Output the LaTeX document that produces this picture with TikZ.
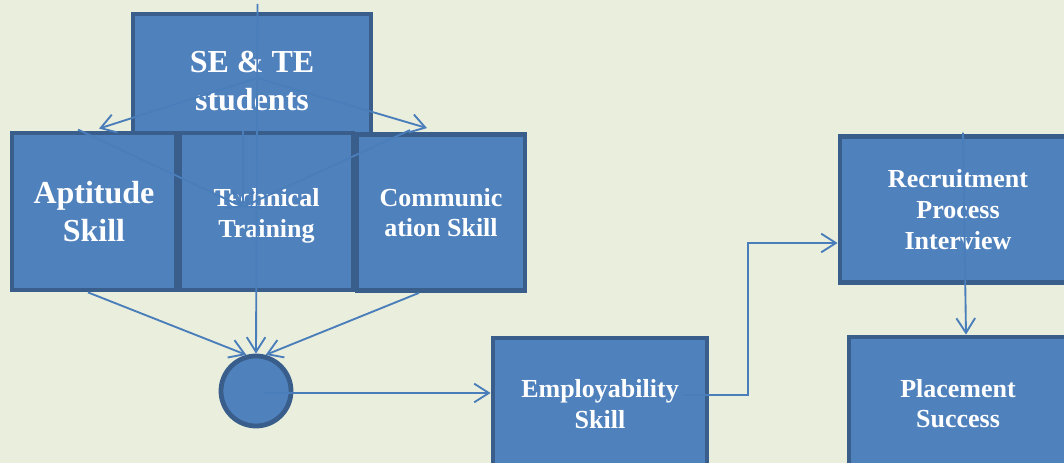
\documentclass[tikz,border=0pt]{standalone}
\usepackage{fontspec}
\setmainfont{Liberation Serif}
\usetikzlibrary{arrows.meta,calc}
\definecolor{paper}{HTML}{EAEEDC}
\definecolor{boxfill}{HTML}{4F81BD}
\definecolor{boxedge}{HTML}{3A5E8C}
\definecolor{wire}{HTML}{4A7EBB}

\begin{document}
\begin{tikzpicture}[x=0.75pt,y=-0.75pt,every text node part/.style={align=center},
stage/.style={rectangle,draw=boxedge,line width=3.6pt,fill=boxfill,text=white,inner sep=0pt,font=\bfseries\fontsize{19.5}{23}\selectfont},
bigstage/.style={stage,font=\bfseries\fontsize{24}{28.5}\selectfont},
link/.style={draw=wire,line width=1.4pt,-{Straight Barb[length=11pt,width=14pt]}}]
\clip (0,0) rectangle (1064,463);
\fill[paper] (0,0) rectangle (1064,463);
\node [bigstage,minimum width=178.5pt,minimum height=100.5pt] (se) at (252,81) {SE \& TE\\students};
\node [bigstage,minimum width=123pt,minimum height=117.75pt] (apt) at (94,211.5) {Aptitude\\Skill};
\node [stage,minimum width=129.75pt,minimum height=117.75pt,label={[text=white,font=\bfseries\fontsize{19.5}{23}\selectfont,yshift=-3.5pt]center:Technical\\Training}] (tech) at (266.5,211.5) {};
\node [stage,minimum width=126pt,minimum height=117pt] (comm) at (441,212.5) {Communic\\ation Skill};
\node [stage,circle,minimum size=52.5pt] (dot) at (256,391) {};
\node [stage,minimum width=160.5pt,minimum height=99pt] (emp) at (600,404) {Employability\\Skill};
\node [stage,minimum width=177pt,minimum height=109.5pt] (rec) at (958,209.5) {Recruitment\\Process\\Interview};
\node [stage,minimum width=163.5pt,minimum height=99.75pt] (place) at (958,403.5) {Placement\\Success};
\coordinate (top) at (257.5,4);
\coordinate (sc) at ($(se.center)+(5,-3)$);
\coordinate (tj) at ($(tech.center)+(-23.5,-4.5)$);
\coordinate (e1) at ($(emp.center)+(83,-9)$);
\coordinate (rtip) at ($(rec.west)+(0,33.5)$);
\coordinate (jog) at ($(rtip)+(-90,0)$);
\draw [link] (top) -- (dot.north);
\draw [link] (sc) -- ($(apt.north)+(5,-2)$);
\draw [link] (sc) -- ($(comm.north)+(-14,-4)$);
\draw [link] ($(apt.north)+(-16,-1)$) -- (tj);
\draw [link] ($(tech.north)+(-23.5,0)$) -- (tj);
\draw [link] ($(comm.north)+(-31,-2)$) -- (tj);
\draw [link] ($(apt.south)+(-6,0)$) -- (dot.105);
\draw [link] ($(comm.south)+(-22,0)$) -- (dot.75);
\draw [link] ($(dot.center)+(8,2)$) -- ($(emp.west)+(0,-11)$);
\draw [link] (e1) -| (jog) -- (rtip);
\draw [link] ($(rec.north)+(5,-1.5)$) -- ($(place.north)+(8,0)$);
\end{tikzpicture}
\end{document}
